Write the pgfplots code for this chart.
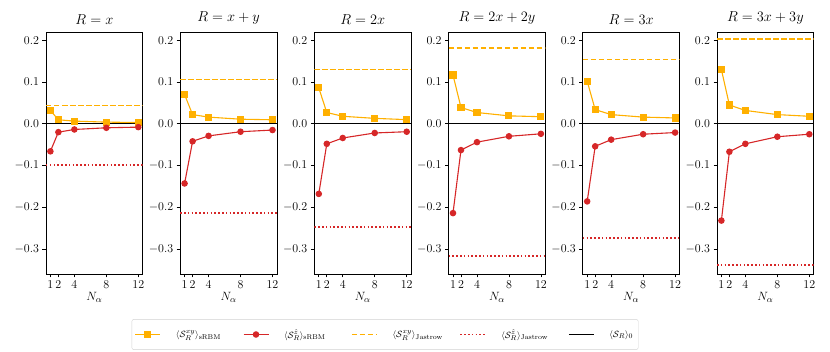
\documentclass[border=0pt]{standalone}
\usepackage{pgfplots}
\pgfplotsset{compat=1.18}
\usepgfplotslibrary{groupplots}

\definecolor{cOrange}{RGB}{255,176,0}
\definecolor{cRed}{RGB}{214,39,40}

% sRBM estimates, one xy/z column pair per panel
\pgfplotstableread{
N  xy1    z1      xy2    z2     xy3    z3     xy4    z4     xy5    z5     xy6    z6
1  0.032  -0.066  0.070  -0.143 0.086  -0.168 0.117  -0.214 0.102  -0.186 0.130  -0.232
2  0.0096 -0.020  0.022  -0.042 0.027  -0.048 0.039  -0.063 0.034  -0.054 0.045  -0.067
4  0.0064 -0.0136 0.016  -0.029 0.018  -0.034 0.027  -0.044 0.022  -0.038 0.032  -0.048
8  0.004  -0.0096 0.011  -0.019 0.013  -0.022 0.019  -0.030 0.016  -0.025 0.022  -0.031
12 0.003  -0.008  0.0096 -0.015 0.010  -0.019 0.017  -0.024 0.014  -0.021 0.018  -0.025
}\srbm

\tikzset{
  srbmxy/.style={color=cOrange, line width=1.1pt, mark=square*, mark size=3pt},
  srbmz/.style={color=cRed, line width=1.1pt, mark=*, mark size=2.7pt},
  jxy/.style={color=cOrange, line width=1.6pt, dash pattern=on 5.5pt off 2.5pt},
  jz/.style={color=cRed, line width=1.6pt, dash pattern=on 1.5pt off 2.3pt},
  zero/.style={black, line width=1.1pt},
}

% #1 title, #2 column index, #3 Jastrow xy, #4 Jastrow z
\newcommand\panel[4]{%
  \nextgroupplot[title={$#1$}]
  \addplot[jxy, forget plot] coordinates {(0.45,#3) (12.55,#3)};
  \addplot[jz, forget plot] coordinates {(0.45,#4) (12.55,#4)};
  \addplot[zero, forget plot] coordinates {(0.45,0) (12.55,0)};
  \addplot[srbmxy, forget plot] table[x=N, y=xy#2] {\srbm};
  \addplot[srbmz, forget plot] table[x=N, y=z#2] {\srbm};
}

\begin{document}
\begin{tikzpicture}
\begin{groupplot}[
  group style={group size=6 by 1, horizontal sep=37.5pt},
  width=96.7pt, height=242pt, scale only axis,
  xmin=0.45, xmax=12.55, ymin=-0.36, ymax=0.22,
  xtick={1,2,4,8,12},
  ytick={-0.3,-0.2,-0.1,0,0.1,0.2},
  tick align=outside, xtick pos=bottom, ytick pos=left,
  major tick length=3.5pt,
  tick style={black, line width=0.6pt},
  axis line style={line width=0.7pt},
  ticklabel style={font=\fontsize{13}{15}\selectfont},
  xticklabel style={inner xsep=0.5pt},
  yticklabel style={/pgf/number format/.cd, fixed, fixed zerofill, precision=1},
  xlabel={$N_\alpha$},
  label style={font=\fontsize{13}{15}\selectfont},
  xlabel style={yshift=3pt},
  title style={font=\fontsize{15.5}{18}\selectfont, yshift=-2pt},
  legend columns=5,
  legend image code/.code={\draw[mark repeat=2, mark phase=2, #1]
    plot coordinates {(0pt,0pt) (12.5pt,0pt) (25pt,0pt)};},
  legend style={at={(3.506,-0.25)}, anchor=center, draw=gray!35,
    rounded corners=2pt, font=\fontsize{9.5}{11}\selectfont,
    inner xsep=3pt, inner ysep=8pt,
    /tikz/every even column/.append style={column sep=5pt},
    /tikz/every odd column/.append style={column sep=13pt},
    cells={anchor=west}},
]
\panel{R=x}{1}{0.044}{-0.099}
\addlegendimage{srbmxy}
\addlegendimage{srbmz}
\addlegendimage{jxy}
\addlegendimage{jz}
\addlegendimage{zero}
\legend{
  \makebox[60pt][l]{$\langle\mathcal{S}_R^{xy}\rangle_{\mathrm{sRBM}}$},
  \makebox[60pt][l]{$\langle\mathcal{S}_R^{\hat z}\rangle_{\mathrm{sRBM}}$},
  \makebox[60pt][l]{$\langle\mathcal{S}_R^{xy}\rangle_{\mathrm{Jastrow}}$},
  \makebox[60pt][l]{$\langle\mathcal{S}_R^{\hat z}\rangle_{\mathrm{Jastrow}}$},
  $\langle\mathcal{S}_R\rangle_{0}$}
\panel{R=x+y}{2}{0.106}{-0.214}
\panel{R=2x}{3}{0.130}{-0.248}
\panel{R=2x+2y}{4}{0.181}{-0.317}
\panel{R=3x}{5}{0.154}{-0.274}
\panel{R=3x+3y}{6}{0.203}{-0.338}
\end{groupplot}
\pgfresetboundingbox
\path (group c1r1.north west) ++(-46pt,32pt) rectangle ++(830pt,-351pt);
\end{tikzpicture}
\end{document}
